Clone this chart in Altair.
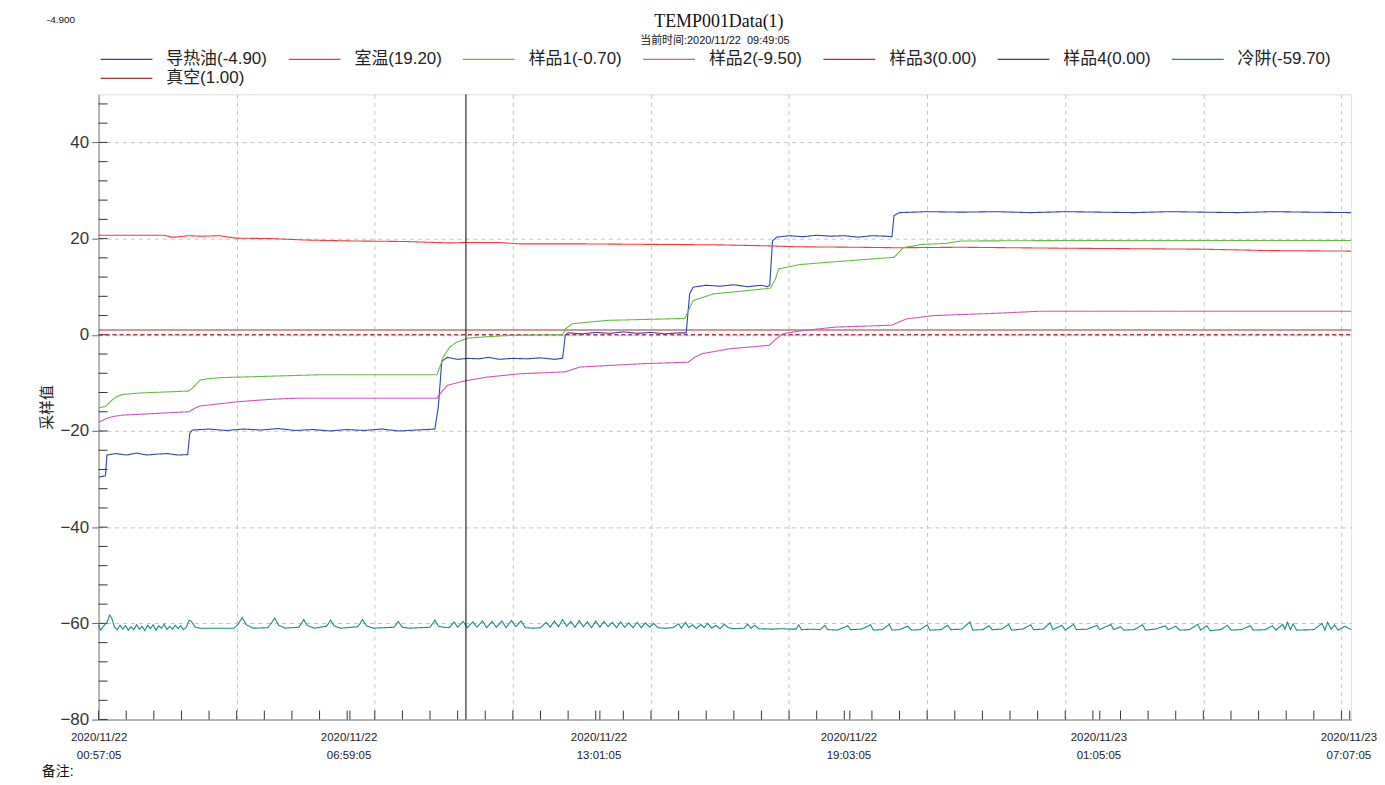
import altair as alt
import pandas as pd

# ---------------- data ----------------
START = pd.Timestamp("2020-11-22 00:57:05")
END_MIN = 1814          # right edge of the plot frame, minutes after START
CURSOR_MIN = 532        # 09:49:05 cursor line

title_text = "TEMP001Data(1)"
subtitle_text = "当前时间:2020/11/22\u00a0 09:49:05"
corner_text = "-4.900"
note_text = "备注:"

series_names = ["导热油", "室温", "样品1", "样品2", "样品3", "样品4", "冷阱", "真空"]
current_values = [-4.90, 19.20, -0.70, -9.50, 0.00, 0.00, -59.70, 1.00]
series_colors = ["#3044a8", "#f53a3a", "#64bc42", "#c858ba", "#cc2244", "#652a68", "#178a8a", "#9a3434"]
dashed_series = ["样品3", "样品4"]

oil_min = [0, 10, 12, 25, 40, 55, 70, 85, 100, 115,
           129, 132, 136, 160, 185, 210, 235, 260, 285, 310,
           335, 360, 385, 410, 435, 460, 487, 492, 497, 505,
           520, 535, 550, 565, 580, 600, 620, 640, 660, 672,
           676, 680, 700, 720, 740, 760, 780, 800, 820, 840,
           851, 856, 861, 880, 900, 920, 940, 960, 968, 972,
           976, 982, 1000, 1020, 1040, 1060, 1080, 1100, 1120, 1140,
           1149, 1152, 1160, 1200, 1250, 1300, 1350, 1400, 1450, 1500,
           1550, 1600, 1650, 1700, 1750, 1814]
oil_val = [-29.6, -29.3, -25.0, -24.7, -25.0, -24.6, -25.0, -24.8, -24.7, -25.0,
           -24.9, -20.5, -19.8, -19.6, -19.9, -19.6, -19.8, -19.5, -19.9, -19.7,
           -20.0, -19.7, -19.9, -19.6, -20.0, -19.8, -19.6, -15.0, -5.5, -4.7,
           -5.1, -4.9, -5.0, -4.7, -5.1, -4.9, -5.0, -4.8, -5.1, -4.9,
           0.0, 0.4, 0.2, 0.5, 0.3, 0.6, 0.3, 0.5, 0.2, 0.4,
           0.4, 8.5, 9.9, 10.3, 10.1, 10.4, 10.0, 10.3, 10.0, 10.3,
           19.5, 20.3, 20.6, 20.4, 20.7, 20.5, 20.6, 20.3, 20.6, 20.5,
           20.4, 24.8, 25.4, 25.6, 25.5, 25.6, 25.4, 25.6, 25.5, 25.4,
           25.6, 25.5, 25.4, 25.6, 25.5, 25.4]

room_min = [0, 95, 105, 111, 130, 150, 175, 198, 250, 300,
            371, 443, 510, 535, 578, 611, 700, 800, 900, 968,
            1011, 1100, 1155, 1250, 1397, 1500, 1598, 1700, 1814]
room_val = [20.7, 20.7, 20.3, 20.3, 20.6, 20.5, 20.6, 20.1, 20.0, 19.7,
            19.5, 19.4, 19.1, 19.2, 19.2, 18.9, 18.9, 18.8, 18.7, 18.5,
            18.3, 18.2, 18.1, 18.2, 18.0, 17.9, 17.8, 17.5, 17.4]

s1_min = [0, 10, 20, 26, 35, 59, 130, 135, 147, 160,
          179, 251, 323, 490, 496, 499, 509, 519, 535, 562,
          600, 672, 676, 686, 737, 849, 854, 861, 890, 940,
          973, 980, 985, 1015, 1067, 1152, 1158, 1165, 1193, 1227,
          1249, 1400, 1814]
s1_val = [-15.2, -14.9, -13.5, -12.9, -12.4, -12.1, -11.7, -11.2, -9.4, -9.1,
          -8.9, -8.6, -8.3, -8.3, -6.0, -4.6, -2.5, -1.5, -0.7, -0.4,
          -0.1, 0.0, 1.2, 2.3, 3.0, 3.4, 5.0, 7.1, 8.5, 9.2,
          9.7, 11.5, 13.7, 14.6, 15.2, 16.1, 17.0, 18.1, 18.8, 19.0,
          19.5, 19.6, 19.6]

s2_min = [0, 10, 20, 35, 131, 140, 147, 203, 251, 284,
          490, 495, 505, 530, 562, 611, 676, 697, 789, 854,
          864, 875, 914, 971, 980, 991, 1015, 1067, 1149, 1155,
          1170, 1210, 1304, 1363, 1814]
s2_val = [-18.2, -17.5, -17.0, -16.7, -16.0, -15.2, -14.8, -13.9, -13.4, -13.2,
          -13.2, -12.2, -10.5, -9.6, -8.8, -8.1, -7.7, -6.7, -6.0, -5.7,
          -4.6, -3.9, -2.9, -2.2, -1.0, 0.2, 0.8, 1.6, 2.0, 2.4,
          3.3, 4.0, 4.5, 4.9, 4.9]

s3_min = [0, 1814]
s3_val = [0.0, 0.0]
s4_min = [0, 1814]
s4_val = [0.0, 0.0]
vac_min = [0, 1814]
vac_val = [1.0, 1.0]

cold_points = [
    (0, -60.3), (3, -61.4), (7, -60.6), (12, -59.8), (16, -58.3), (19, -58.9), (23, -60.8), (27, -61.3),
    (31, -60.4), (35, -61.2), (39, -60.5), (43, -61.4), (47, -60.7), (51, -61.3), (55, -60.3), (59, -61.2),
    (63, -60.6), (67, -61.5), (71, -60.4), (75, -61.1), (79, -60.3), (83, -61.4), (87, -60.5), (91, -61.0),
    (95, -60.2), (99, -61.3), (103, -60.6), (107, -61.2), (111, -60.4), (115, -61.1), (119, -60.5), (123, -61.3),
    (127, -60.8), (131, -59.4), (134, -59.5), (140, -60.8), (147, -61.0),
    (196, -61.0), (202, -60.2), (208, -58.8), (214, -60.3), (224, -61.0), (245, -60.9), (250, -60.0),
    (255, -58.9), (261, -60.4), (270, -61.0), (290, -60.8), (294, -60.0), (297, -59.2), (302, -60.4),
    (312, -61.0), (330, -60.6), (333, -60.0), (336, -59.3), (341, -60.5), (350, -61.0), (375, -60.7),
    (379, -60.0), (382, -59.2), (388, -60.5), (398, -61.0), (428, -60.8), (431, -60.2), (434, -59.6),
    (440, -60.8), (450, -61.0), (480, -60.8), (484, -60.0), (487, -59.3), (492, -60.6), (500, -60.8),
    (508, -60.9), (515, -59.7), (520, -60.8), (528, -59.6), (534, -60.9), (542, -59.7), (548, -60.8),
    (556, -59.5), (562, -60.9), (570, -59.6), (576, -60.8), (584, -59.5), (590, -60.9), (598, -59.4),
    (604, -60.7), (612, -59.5), (618, -60.9), (630, -61.0), (640, -60.9), (648, -59.8), (654, -60.8),
    (660, -59.5), (666, -60.7), (672, -59.2), (678, -60.6), (684, -59.6), (690, -60.8), (696, -59.4),
    (702, -60.7), (708, -59.7), (714, -60.9), (720, -59.5), (726, -60.8), (732, -59.6), (738, -60.7),
    (744, -59.8), (750, -60.9), (756, -59.7), (762, -60.8), (768, -59.9), (774, -60.9), (780, -59.8),
    (786, -60.9), (792, -59.9), (798, -60.8), (804, -60.0), (810, -60.9), (820, -61.0), (832, -60.9),
    (840, -60.1), (844, -61.0), (850, -59.8), (855, -60.9), (860, -60.3), (866, -61.1), (872, -60.2),
    (877, -60.9), (882, -60.0), (888, -61.0), (894, -60.4), (900, -61.1), (906, -60.2), (912, -60.9),
    (920, -61.1), (935, -61.0), (940, -60.2), (945, -61.0), (950, -60.4), (956, -61.1), (975, -61.2),
    (990, -61.1), (1000, -61.2), (1010, -61.2), (1014, -60.3), (1018, -61.3), (1035, -61.2), (1045, -61.3),
    (1052, -60.4), (1056, -61.3), (1070, -61.4), (1085, -60.5), (1089, -61.3), (1105, -61.2), (1118, -60.3),
    (1122, -61.4), (1135, -61.3), (1145, -60.2), (1149, -61.4), (1160, -61.3), (1172, -60.6), (1177, -61.4),
    (1190, -61.3), (1200, -60.3), (1204, -61.4), (1220, -61.3), (1230, -60.4), (1234, -61.3), (1250, -61.2),
    (1262, -59.7), (1266, -61.4), (1280, -61.3), (1290, -60.5), (1294, -61.3), (1308, -61.2), (1318, -60.2),
    (1322, -61.4), (1338, -61.2), (1350, -60.3), (1354, -61.3), (1368, -61.2), (1378, -59.9), (1382, -61.3),
    (1395, -60.4), (1400, -61.4), (1412, -60.2), (1416, -61.3), (1432, -61.2), (1446, -60.4), (1450, -61.3),
    (1466, -60.2), (1470, -61.3), (1480, -60.7), (1485, -61.4), (1500, -61.3), (1512, -60.3), (1516, -61.4),
    (1530, -61.2), (1545, -60.5), (1549, -61.3), (1560, -60.6), (1566, -61.4), (1580, -61.3), (1592, -60.2),
    (1596, -61.4), (1605, -60.5), (1610, -61.5), (1625, -61.3), (1635, -60.4), (1640, -61.4), (1655, -61.3),
    (1668, -60.5), (1672, -61.4), (1690, -61.3), (1700, -60.5), (1705, -61.4), (1715, -60.2), (1718, -61.2),
    (1722, -59.8), (1726, -61.3), (1730, -60.1), (1735, -61.4), (1760, -61.3), (1772, -60.0), (1776, -61.4),
    (1780, -59.8), (1785, -61.2), (1790, -60.3), (1795, -61.4), (1805, -60.6), (1814, -61.3),
]
cold_min = [p[0] for p in cold_points]
cold_val = [p[1] for p in cold_points]

series_data = [(oil_min, oil_val), (room_min, room_val), (s1_min, s1_val), (s2_min, s2_val),
               (s3_min, s3_val), (s4_min, s4_val), (cold_min, cold_val), (vac_min, vac_val)]

# axis tick positions
y_label_values = [-80, -60, -40, -20, 0, 20, 40]
y_minor_values = list(range(-80, 50, 4))
x_label_step = 362   # minutes between labelled ticks
x_grid_step = 200    # minutes between dashed grid lines
x_minor_step = 40    # minutes between small ticks

# ---------------- build tables ----------------
def ts(m):
    return (START + pd.Timedelta(minutes=m)).strftime("%Y-%m-%dT%H:%M:%S")

def dt(m):
    t = START + pd.Timedelta(minutes=m)
    return alt.DateTime(year=t.year, month=t.month, date=t.day, hours=t.hour, minutes=t.minute, seconds=t.second)

labels = [f"{n}({v:.2f})" for n, v in zip(series_names, current_values)]
draw_sequence = [5, 4, 7, 6, 0, 1, 2, 3]   # indices: 样品4 first (bottom), then 样品3, 真空, 冷阱, ...
rows = []
for idx in draw_sequence:
    name, lab = series_names[idx], labels[idx]
    mins, vals = series_data[idx]
    for m, v in zip(mins, vals):
        rows.append({"series": name, "label": lab, "time": ts(m), "value": v})
df = pd.DataFrame(rows)

label_minutes = [k * x_label_step for k in range(6)]
grid_minutes = list(range(x_grid_step, END_MIN, x_grid_step))
minor_minutes = sorted(set(list(range(0, END_MIN, x_minor_step)) + [m + 2 for m in label_minutes[1:]]))
df_xticks = pd.DataFrame({"time": [ts(m) for m in minor_minutes]})
df_yticks = pd.DataFrame({"value": y_minor_values})
df_cursor = pd.DataFrame({"time": [ts(CURSOR_MIN)]})

# ---------------- chart ----------------
W, H = 1258, 628
FONT = "Liberation Sans, Noto Sans CJK SC"
GRID = "#c4c4c4"
AXIS = "#b4b4b4"

x_scale = alt.Scale(domain=[dt(0), dt(END_MIN)])
y_scale = alt.Scale(domain=[-80, 50], nice=False, zero=False)

label_expr = "[timeFormat(datum.value, '%Y/%m/%d'), timeFormat(datum.value, '%H:%M:%S')]"

y_axis = alt.Axis(
    values=y_label_values, grid=True, gridDash=[4, 4], gridColor=GRID, gridWidth=1,
    tickSize=7, tickColor="#666", labelFont=FONT, labelFontSize=17, labelColor="#333",
    labelPadding=3, domainColor=AXIS, domainWidth=2, title="采样值",
    titleFont=FONT, titleFontSize=15, titleFontWeight="normal", titleColor="#222",
    titleAngle=-90, titleX=-52, titleY=H / 2, titleAlign="center", titleBaseline="middle")

lines = alt.Chart(df).mark_line(strokeWidth=1.1).encode(
    x=alt.X("time:T", scale=x_scale, axis=alt.Axis(
        orient="bottom", values=[dt(m) for m in label_minutes], title=None, grid=False,
        ticks=False, labelExpr=label_expr, labelFont=FONT, labelFontSize=11.5,
        labelColor="#222", labelPadding=12, labelLineHeight=18, labelFlush=False,
        labelOverlap=False, labelBound=False, domainColor=AXIS, domainWidth=2)),
    y=alt.Y("value:Q", scale=y_scale, axis=y_axis),
    color=alt.Color("label:N", scale=alt.Scale(domain=labels, range=series_colors), legend=alt.Legend(
        title=None, orient="none", legendX=1, legendY=-44, direction="horizontal", columns=7,
        symbolType="stroke", symbolSize=2704, symbolStrokeWidth=1.3, clipHeight=18,
        labelFont=FONT, labelFontSize=17, labelColor="#222", labelOffset=13,
        columnPadding=20, rowPadding=1, padding=0, labelLimit=300)),
    strokeDash=alt.condition(alt.FieldOneOfPredicate(field="series", oneOf=dashed_series),
                             alt.value([4, 3]), alt.value([1, 0])),
)

x_ticks = alt.Chart(df_xticks).mark_rule(color="#333", strokeWidth=1).encode(
    x=alt.X("time:T", scale=x_scale, axis=alt.Axis(
        orient="bottom", values=[dt(m) for m in grid_minutes], title=None, labels=False,
        ticks=False, domain=False, grid=True, gridDash=[4, 4], gridColor=GRID, gridWidth=1)),
    y=alt.value(H - 9), y2=alt.value(H),
)

y_ticks = alt.Chart(df_yticks).mark_rule(color="#333", strokeWidth=1).encode(
    y=alt.Y("value:Q", scale=y_scale, axis=y_axis),
    x=alt.value(0), x2=alt.value(9),
)

cursor = alt.Chart(df_cursor).mark_rule(color="#000", strokeWidth=1).encode(
    x=alt.X("time:T", scale=x_scale, axis=None),
)

def text_layer(txt, x, y, size, font, align="left"):
    return alt.Chart(pd.DataFrame({"t": [txt]})).mark_text(
        align=align, baseline="middle", fontSize=size, font=font, color="#111"
    ).encode(x=alt.value(x), y=alt.value(y), text="t:N")

title_l = text_layer(title_text, 623, -73, 18, "Liberation Serif", "center")
subtitle_l = text_layer(subtitle_text, 619, -54, 11, FONT, "center")
corner = text_layer(corner_text, -52, -75, 10, FONT)
note = text_layer(note_text, -57, H + 53, 14, FONT)

chart = alt.layer(x_ticks, y_ticks, lines, cursor, title_l, subtitle_l, corner, note).resolve_axis(
    x="independent"
).properties(
    width=W, height=H,
    autosize=alt.AutoSizeParams(type="none"),
    padding={"left": 91, "top": 85, "right": 26, "bottom": 58},
).configure_view(stroke="#c8c8c8", strokeWidth=2).configure(background="white")

chart.save("out.html", embed_options={"renderer": "svg", "actions": False})
